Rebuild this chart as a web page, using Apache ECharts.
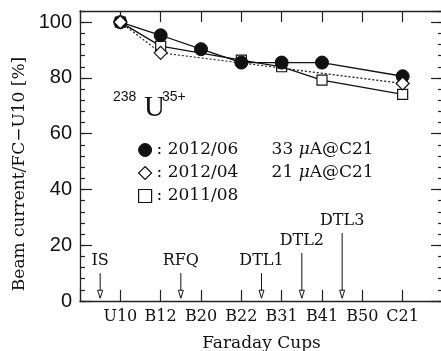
<!DOCTYPE html>
<html>
<head>
<meta charset="utf-8">
<script src="https://cdn.jsdelivr.net/npm/echarts@6/dist/echarts.min.js"></script>
<style>
  html, body { margin: 0; padding: 0; background: #fff; }
  #chart { width: 441px; height: 351px; }
</style>
</head>
<body>
<div id="chart"></div>
<script>
const cups = ["U10", "B12", "B20", "B22", "B31", "B41", "B50", "C21"];
const cupPos = [1, 2, 3, 4, 5, 6, 7, 8];

const runNames = ["2012/06", "2012/04", "2011/08"];
const runCurrents = ["33", "21", ""];
const run201206 = [100, 95.3, 90.3, 85.5, 85.5, 85.5, null, 80.6];
const run201204 = [100, 89.0, null, null, null, null, null, 78.0];
const run201108 = [100, 91.4, null, 86.4, 84.0, 79.2, null, 74.1];

const sections = ["IS", "RFQ", "DTL1", "DTL2", "DTL3"];
const sectionPos = [0.5, 2.5, 4.5, 5.5, 6.5];
const arrowTop = [10, 10, 10, 17.2, 24.4];
const arrowTip = 1;

const ink = "#111";
const serif = "DejaVu Serif";

function points(values) {
  return cupPos.map((x, i) => [x, values[i]]).filter((p) => p[1] != null);
}

const axisLine = { show: true, onZero: false, lineStyle: { color: "#222", width: 1.3 } };

function xAxis(position, labels) {
  return {
    type: "value",
    position,
    min: 0,
    max: 9,
    interval: 1,
    axisLine,
    axisTick: { show: true, inside: true, length: 11, lineStyle: { color: "#222", width: 1.2 } },
    axisLabel: labels
      ? {
          show: true,
          margin: 8,
          color: ink,
          fontFamily: serif,
          fontSize: 16,
          formatter: (v) => cups[cupPos.indexOf(v)] || ""
        }
      : { show: false },
    splitLine: { show: false }
  };
}

function yAxis(position, interval, tickLength, labels) {
  return {
    type: "value",
    position,
    min: 0,
    max: 104,
    interval,
    axisLine: tickLength > 6 ? axisLine : { show: false, onZero: false },
    axisTick: { show: true, inside: true, length: tickLength, lineStyle: { color: "#222", width: 1.2 } },
    axisLabel: labels
      ? {
          show: true,
          margin: 8,
          color: ink,
          fontFamily: "Liberation Sans",
          fontSize: 20,
          showMaxLabel: false,
          formatter: (v) => (v % 20 === 0 ? String(v) : "")
        }
      : { show: false },
    splitLine: { show: false }
  };
}

const chart = echarts.init(document.getElementById("chart"), null, { renderer: "canvas" });

chart.setOption({
  backgroundColor: "#fff",
  animation: false,
  grid: { left: 80, top: 11, width: 363, height: 290, containLabel: false, outerBoundsMode: "none" },
  xAxis: [
    Object.assign(xAxis("bottom", true), {
      name: "Faraday Cups",
      nameLocation: "middle",
      nameGap: 34,
      nameTextStyle: { color: ink, fontFamily: serif, fontSize: 17 }
    }),
    xAxis("top", false)
  ],
  yAxis: [
    yAxis("left", 20, 12, true),
    yAxis("left", 4, 5, false),
    yAxis("right", 20, 12, false),
    yAxis("right", 4, 5, false)
  ],
  legend: {
    orient: "vertical",
    left: 133,
    top: 135,
    itemWidth: 13,
    itemHeight: 13,
    itemGap: 3,
    selectedMode: false,
    data: [
      { name: runNames[0], icon: "circle", itemStyle: { color: ink, borderColor: ink, borderWidth: 1 } },
      { name: runNames[1], icon: "diamond", itemStyle: { color: "#fff", borderColor: ink, borderWidth: 1.2 } },
      { name: runNames[2], icon: "rect", itemStyle: { color: "#fff", borderColor: ink, borderWidth: 1.2 } }
    ],
    formatter: (name) => {
      const i = runNames.indexOf(name);
      const cur = runCurrents[i];
      return `{a|: ${name}}` + (cur ? `{b|${cur} }{m|μ}{b|A@C21}` : "");
    },
    textStyle: {
      color: ink,
      fontFamily: serif,
      fontSize: 17,
      lineHeight: 20,
      rich: {
        a: { width: 115, fontFamily: serif, fontSize: 17, color: ink },
        b: { fontFamily: serif, fontSize: 17, color: ink },
        m: { fontFamily: serif, fontSize: 17, fontStyle: "italic", color: ink }
      }
    }
  },
  graphic: [
    {
      type: "text",
      x: 20,
      y: 174,
      rotation: Math.PI / 2,
      style: {
        text: "Beam current/FC\u2212U10 [%]",
        font: `17px "${serif}"`,
        fill: ink,
        align: "center",
        verticalAlign: "middle"
      }
    },
    {
      type: "text",
      x: 113,
      y: 97,
      style: { text: "238", font: '14px "Liberation Sans"', fill: ink, align: "left", verticalAlign: "middle" }
    },
    {
      type: "text",
      x: 144,
      y: 108,
      style: { text: "U", font: '29px "Liberation Serif"', fill: ink, align: "left", verticalAlign: "middle" }
    },
    {
      type: "text",
      x: 162,
      y: 97,
      style: { text: "35+", font: '14px "Liberation Sans"', fill: ink, align: "left", verticalAlign: "middle" }
    }
  ],
  series: [
    {
      name: runNames[2],
      type: "line",
      data: points(run201108),
      symbol: "rect",
      symbolSize: 10,
      z: 2,
      lineStyle: { color: ink, width: 1.3 },
      itemStyle: { color: "#fff", borderColor: ink, borderWidth: 1.2 }
    },
    {
      name: runNames[0],
      type: "line",
      data: points(run201206),
      symbol: "circle",
      symbolSize: 13,
      z: 3,
      lineStyle: { color: ink, width: 1.3 },
      itemStyle: { color: ink, borderColor: ink, borderWidth: 1 }
    },
    {
      name: runNames[1],
      type: "line",
      data: points(run201204),
      symbol: "diamond",
      symbolSize: 13,
      z: 4,
      lineStyle: { color: ink, width: 1.1, type: [2, 2] },
      itemStyle: { color: "#fff", borderColor: ink, borderWidth: 1.2 }
    },
    {
      name: "sections",
      type: "custom",
      clip: false,
      silent: true,
      data: sections.map((s, i) => [sectionPos[i], arrowTop[i]]),
      renderItem: (params, api) => {
        const top = api.coord([api.value(0), api.value(1)]);
        const tip = api.coord([api.value(0), arrowTip]);
        return {
          type: "group",
          children: [
            {
              type: "line",
              shape: { x1: top[0], y1: top[1], x2: tip[0], y2: tip[1] - 7 },
              style: { stroke: ink, lineWidth: 1 }
            },
            {
              type: "polygon",
              shape: { points: [[tip[0] - 2.5, tip[1] - 8], [tip[0] + 2.5, tip[1] - 8], [tip[0], tip[1]]] },
              style: { fill: "#fff", stroke: ink, lineWidth: 1 }
            },
            {
              type: "text",
              x: top[0],
              y: top[1] - 12,
              style: {
                text: sections[params.dataIndex],
                font: `16px "${serif}"`,
                fill: ink,
                align: "center",
                verticalAlign: "middle"
              }
            }
          ]
        };
      }
    }
  ]
});
</script>
</body>
</html>
